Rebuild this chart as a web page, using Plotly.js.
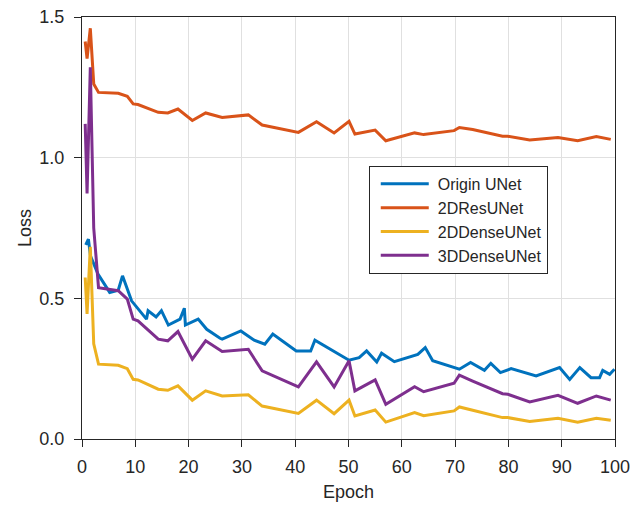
<!DOCTYPE html>
<html>
<head>
<meta charset="utf-8">
<script src="https://cdn.plot.ly/plotly-3.0.1.min.js"></script>
<style>html,body{margin:0;padding:0;background:#fff;}#chart{width:642px;height:505px;}</style>
</head>
<body>
<div id="chart"></div>
<script>
// Origin UNet
const blueEpoch = [0.7, 1.2, 1.6, 3.0, 5.2, 6.8, 7.6, 9.3, 12.1, 12.4, 13.9, 14.9, 16.2, 18.4, 19.2, 19.4, 21.8, 23.4, 25.9, 26.3, 29.8, 32.3, 34.3, 35.8, 40.2, 42.9, 43.7, 50.1, 52.0, 53.4, 55.3, 56.2, 58.6, 60.8, 63.0, 64.4, 65.8, 70.8, 72.9, 75.5, 76.7, 78.5, 80.5, 85.2, 89.6, 91.5, 93.4, 95.5, 97.1, 97.7, 99.0, 99.9];
const blueLoss  = [0.69, 0.71, 0.65, 0.586, 0.521, 0.529, 0.580, 0.491, 0.426, 0.456, 0.434, 0.456, 0.405, 0.426, 0.465, 0.405, 0.426, 0.390, 0.358, 0.355, 0.384, 0.351, 0.337, 0.373, 0.313, 0.313, 0.351, 0.280, 0.289, 0.313, 0.274, 0.305, 0.275, 0.289, 0.301, 0.325, 0.278, 0.248, 0.272, 0.244, 0.269, 0.236, 0.250, 0.224, 0.254, 0.212, 0.254, 0.218, 0.218, 0.244, 0.230, 0.248];

// shared epochs for the other three models
const epochs = [0.6, 0.95, 1.56, 2.2, 3.1, 6.8, 8.5, 9.6, 10.5, 14.3, 16.1, 18.0, 20.7, 23.2, 26.3, 31.2, 33.8, 40.6, 44.0, 47.3, 50.1, 51.2, 55.0, 57.0, 62.4, 64.1, 69.8, 70.8, 73.3, 78.9, 79.9, 84.0, 89.3, 93.0, 96.5, 99.2];
const resLoss     = [1.413, 1.352, 1.460, 1.262, 1.232, 1.229, 1.218, 1.191, 1.189, 1.161, 1.159, 1.173, 1.132, 1.159, 1.143, 1.152, 1.116, 1.090, 1.128, 1.088, 1.129, 1.084, 1.098, 1.060, 1.088, 1.082, 1.096, 1.107, 1.100, 1.076, 1.076, 1.063, 1.072, 1.060, 1.075, 1.065];
const dense2Loss  = [0.574, 0.445, 0.683, 0.338, 0.266, 0.262, 0.250, 0.212, 0.210, 0.177, 0.173, 0.189, 0.138, 0.171, 0.153, 0.157, 0.117, 0.091, 0.138, 0.090, 0.138, 0.082, 0.103, 0.060, 0.094, 0.083, 0.100, 0.114, 0.102, 0.076, 0.076, 0.062, 0.074, 0.060, 0.074, 0.067];
const dense3Loss  = [1.120, 0.873, 1.321, 0.750, 0.538, 0.527, 0.497, 0.426, 0.420, 0.355, 0.349, 0.382, 0.284, 0.349, 0.311, 0.319, 0.242, 0.185, 0.274, 0.185, 0.278, 0.171, 0.210, 0.123, 0.186, 0.168, 0.198, 0.227, 0.206, 0.161, 0.159, 0.132, 0.155, 0.127, 0.153, 0.138];

const names = ["Origin UNet", "2DResUNet", "2DDenseUNet", "3DDenseUNet"];
const colors = ["#0072BD", "#D95319", "#EDB120", "#7E2F8E"];
const xTicks = [0, 10, 20, 30, 40, 50, 60, 70, 80, 90, 100];
const yTicks = [0, 0.5, 1.0, 1.5];
const yTickText = ["0.0", "0.5", "1.0", "1.5"];

const series = [[blueEpoch, blueLoss], [epochs, resLoss], [epochs, dense2Loss], [epochs, dense3Loss]];
const traces = series.map((s, i) => ({
  x: s[0], y: s[1], name: names[i], type: "scatter", mode: "lines",
  line: {color: colors[i], width: 3}
}));

const font = {family: "Liberation Sans, Arial, sans-serif", size: 18, color: "#262626"};
const legendFont = {family: "Liberation Sans, Arial, sans-serif", size: 16, color: "#262626"};
const layout = {
  width: 642, height: 505,
  margin: {l: 82, r: 27, t: 17, b: 66},
  paper_bgcolor: "#fff", plot_bgcolor: "#fff",
  font: font,
  showlegend: true,
  legend: {x: 0.538, y: 0.647, xanchor: "left", yanchor: "top", bordercolor: "#262626", borderwidth: 1, bgcolor: "#fff", font: legendFont, tracegroupgap: 0, itemwidth: 58},
  xaxis: {
    range: [0, 100], tickvals: xTicks, ticks: "outside", ticklen: 7, tickcolor: "#262626",
    ticklabelstandoff: 4,
    showline: true, linecolor: "#262626", linewidth: 1, mirror: true,
    showgrid: true, gridcolor: "#e0e0e0", zeroline: false,
    title: {text: "Epoch", font: font, standoff: 9}, tickfont: font
  },
  yaxis: {
    range: [0, 1.5], tickvals: yTicks, ticktext: yTickText, ticks: "outside", ticklen: 7, tickcolor: "#262626",
    ticklabelstandoff: 6,
    showline: true, linecolor: "#262626", linewidth: 1, mirror: true,
    showgrid: true, gridcolor: "#e0e0e0", zeroline: false,
    title: {text: "Loss", font: font, standoff: 3}, tickfont: font
  }
};
Plotly.newPlot("chart", traces, layout, {displayModeBar: false, staticPlot: true}).then(() => {
  // lengthen legend line samples to match the reference legend
  document.querySelectorAll("#chart .legend .legendlines path").forEach(p => p.setAttribute("d", "M11,0h48"));
});
</script>
</body>
</html>
